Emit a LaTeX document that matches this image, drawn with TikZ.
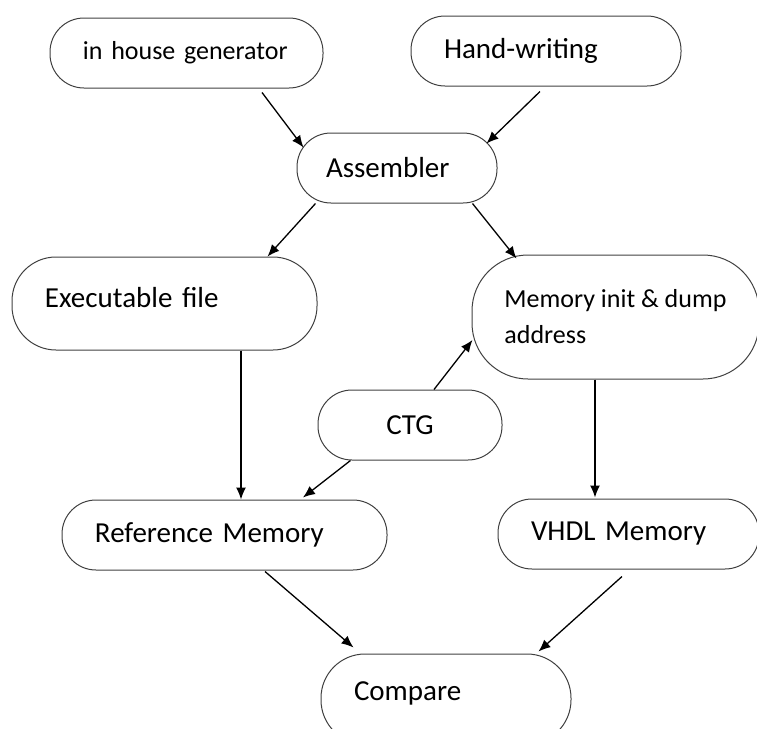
\documentclass[tikz,border=0pt]{standalone}
\usepackage{fontspec}
\setmainfont{Carlito}
\usetikzlibrary{arrows.meta,positioning}
\tikzset{term/.style={rectangle,rounded corners=17pt,draw=black!75,line width=0.5pt,minimum height=35pt,inner xsep=16.5pt,inner ysep=0pt,align=left,font=\fontsize{14.5}{18}\selectfont}}
\tikzset{smalltxt/.style={font=\fontsize{13}{18}\selectfont}}
\tikzset{flow/.style={-{Latex[length=6pt,width=5pt]},line width=0.65pt}}

\begin{document}
\begin{tikzpicture}
  \useasboundingbox (0,0) rectangle (378.5pt,-364.5pt);
  \clip (0,0) rectangle (378.5pt,-364.5pt);
  % sources and assembler
  \node[term,smalltxt,text width=103.5pt] (gen) at (93.25pt,-26.5pt) {in house generator};
  \node[term,text width=102pt,right=43.5pt of gen,yshift=1pt] (hand) {Hand-writing};
  \node[term,text width=71pt,inner xsep=14.5pt,below right=22pt and -13.5pt of gen] (asm) {Assembler};
  % outputs of the assembler
  \node[term,text width=119.5pt,minimum height=46.5pt,rounded corners=22pt,text depth=6.5pt,below left=26.5pt and -10.5pt of asm] (exe) {Executable file};
  \node[term,smalltxt,inner xsep=0pt,minimum width=143.5pt,minimum height=62pt,rounded corners=28pt,below right=25.5pt and -13pt of asm] (mem) {Memory init \& dump\\address};
  \node[term,text width=59pt,align=center,below=93pt of asm,xshift=6.5pt] (ctg) {CTG};
  % memories and comparison
  \node[term,text width=129.5pt,below=74.5pt of exe,xshift=30pt] (ref) {Reference Memory};
  \node[term,text width=97.5pt,below=59.5pt of mem,xshift=6.5pt] (vhdl) {VHDL Memory};
  \node[term,text width=92pt,minimum height=45pt,rounded corners=22pt,text depth=8pt,below right=41.5pt and -33.5pt of ref] (cmp) {Compare};

  \draw[flow] ([xshift=37.75pt,yshift=-2pt]gen.south) -- ([xshift=3.5pt,yshift=-7.5pt]asm.north west);
  \draw[flow] ([xshift=-3pt,yshift=-2.5pt]hand.south) -- ([xshift=-5.5pt,yshift=-5.5pt]asm.north east);
  \draw[flow] ([xshift=9.5pt]asm.south west) -- ([xshift=-25pt]exe.north east);
  \draw[flow] ([xshift=-12.5pt]asm.south east) -- ([xshift=22.5pt,yshift=-2pt]mem.north west);
  \draw[flow] ([xshift=38.25pt]exe.south) -- ([xshift=8.25pt]ref.north);
  \draw[flow] ([xshift=16.5pt]ctg.south west) -- ([xshift=39.25pt,yshift=1pt]ref.north);
  \draw[flow] ([xshift=12pt]ctg.north) -- ([xshift=0.5pt,yshift=-11.5pt]mem.west);
  \draw[flow] ([xshift=-10.25pt]mem.south) -- ([xshift=-16.75pt,yshift=0.5pt]vhdl.north);
  \draw[flow] ([xshift=20.25pt,yshift=-0.5pt]ref.south) -- ([xshift=16.5pt,yshift=3pt]cmp.north west);
  \draw[flow] ([xshift=-3.25pt,yshift=-3.5pt]vhdl.south) -- ([xshift=-16.5pt,yshift=1pt]cmp.north east);
\end{tikzpicture}
\end{document}
